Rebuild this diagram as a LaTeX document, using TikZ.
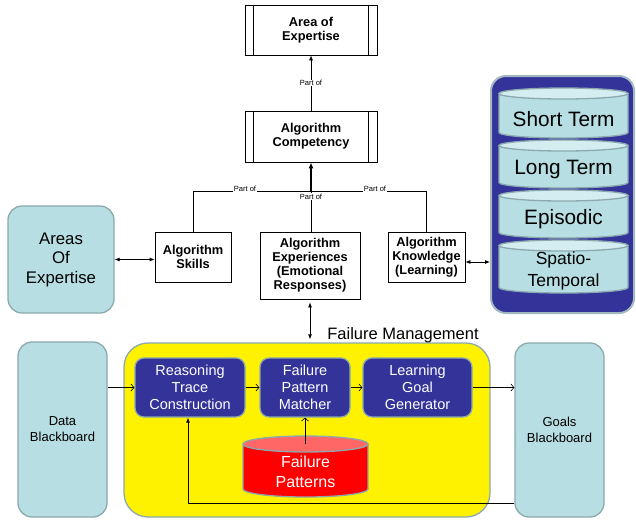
\documentclass[tikz,border=0pt]{standalone}
\usepackage{fontspec}
\setmainfont{Liberation Sans}
\usetikzlibrary{arrows.meta}

\definecolor{paleblue}{HTML}{B7DEE2}
\definecolor{paletop}{HTML}{D3EDF0}
\definecolor{edgegray}{HTML}{8BA9AF}
\definecolor{navy}{HTML}{333399}
\definecolor{hotred}{HTML}{FF0000}
\definecolor{redtop}{HTML}{FF6666}

% drum: #1 left, #2 right, #3 top, #4 bottom, #5 cap radius, #6 body fill, #7 cap fill
\newcommand{\drum}[7]{%
  \pgfmathsetmacro\drumcx{(#1+#2)/2}%
  \pgfmathsetmacro\drumrx{(#2-#1)/2}%
  \filldraw[fill=#6,draw=edgegray,line width=1.3pt]
    (#1,-#3-#5) -- (#1,-#4+#5)
    arc[start angle=180,end angle=360,x radius=\drumrx,y radius=#5]
    -- (#2,-#3-#5) -- cycle;
  \filldraw[fill=#7,draw=edgegray,line width=1.3pt]
    (\drumcx,-#3-#5) ellipse[x radius=\drumrx,y radius=#5];
}

\begin{document}
\begin{tikzpicture}[x=1pt,y=1pt,
  concept/.style={draw=black,line width=0.8pt,fill=white,align=center,inner sep=1pt,
    font=\fontsize{12.8}{14}\selectfont\bfseries},
  partlabel/.style={fill=white,inner sep=0.6pt,font=\fontsize{7.5}{8}\selectfont},
  softbox/.style={draw=edgegray,line width=1.3pt,fill=paleblue,rounded corners=14pt,
    align=center,inner sep=2pt},
  stage/.style={draw=edgegray,line width=1.3pt,fill=navy,rounded corners=9pt,
    text=white,align=center,inner sep=1pt,minimum width=#1,minimum height=59pt,
    font=\fontsize{14.5}{17}\selectfont},
  memtext/.style={align=center,inner sep=0pt,font=\fontsize{20.8}{22}\selectfont},
  flow/.style={-{Straight Barb[length=3pt,width=7pt]},line width=0.6pt},
  link/.style={{Latex[length=5pt,width=4pt]}-{Latex[length=5pt,width=4pt]},line width=0.8pt}
]
\useasboundingbox (0,0) rectangle (636,-520);

% ---- concept hierarchy ----
\node[concept,minimum width=132pt,minimum height=50pt] (area) at (311,-30) {Area of\\Expertise};
\node[concept,minimum width=132pt,minimum height=51pt] (comp) at (311,-136.5) {Algorithm\\Competency};
\foreach \n in {area,comp}{
  \draw[line width=0.8pt] ([xshift=9pt]\n.north west) -- ([xshift=9pt]\n.south west);
  \draw[line width=0.8pt] ([xshift=-9pt]\n.north east) -- ([xshift=-9pt]\n.south east);
}
\node[concept,minimum width=76pt,minimum height=50pt] (skills) at (193,-257) {Algorithm\\Skills};
\node[concept,minimum width=100pt,minimum height=67pt] (exper) at (310,-265.5)
  {Algorithm\\Experiences\\(Emotional\\Responses)};
\node[concept,minimum width=77pt,minimum height=50pt] (know) at (426.5,-257)
  {Algorithm\\Knowledge\\(Learning)};

\draw[-{Latex[length=5pt,width=4pt]},line width=0.6pt] (comp.north) -- (area.south)
  node[partlabel,midway] (p0) {Part of};

\coordinate (bar) at (311,-191);
\draw[line width=0.6pt] (skills.north) -- (skills.north |- bar)
  -- (know.north |- bar) -- (know.north);
\draw[line width=0.6pt] (exper.north -| bar) -- (bar);
\node[partlabel] (p1) at (245,-189) {Part of};
\node[partlabel] (p2) at (375,-189) {Part of};
\node[partlabel] (p3) at (311,-196.5) {Part of};
\draw[-{Latex[length=6pt,width=5pt]},line width=1.6pt] (bar) -- (comp.south);

% ---- areas of expertise ----
\node[softbox,minimum width=106pt,minimum height=107pt,
  font=\fontsize{16.8}{19.5}\selectfont] (areas) at (61,-259.5) {Areas\\Of\\Expertise};
\draw[link] (areas.east) -- (skills.west |- areas.east);

% ---- memory panel ----
\node[draw=edgegray!80,line width=2pt,fill=navy,rounded corners=15pt,
  minimum width=143pt,minimum height=237pt] (mem) at (562.5,-194.5) {};
\drum{499}{628}{88}{138}{5.5}{paleblue}{paletop}
\drum{499}{628}{140}{188}{5.5}{paleblue}{paletop}
\drum{499}{628}{190}{238}{5.5}{paleblue}{paletop}
\drum{499}{628}{240}{293}{5.5}{paleblue}{paletop}
\node[memtext] (m1) at (563.5,-119) {Short Term};
\node[memtext] (m2) at (563.5,-169) {Long Term};
\node[memtext] (m3) at (563.5,-219) {Episodic};
\node[memtext,font=\fontsize{17.5}{21.5}\selectfont] (m4) at (563.5,-271) {Spatio-\\Temporal};
\draw[link] ([yshift=-5pt]know.east) -- ([yshift=-5pt]know.east -| mem.west);

% ---- failure management ----
\node[draw=edgegray,line width=1.3pt,fill=yellow,rounded corners=24pt,
  minimum width=366pt,minimum height=174pt] (fm) at (307,-430) {};
\node[inner sep=0pt,font=\fontsize{16.5}{18}\selectfont] (fmlabel) at (403,-335) {Failure Management};
\draw[link,shorten <=3pt,shorten >=3pt] (exper.south) -- (exper.south |- fm.north);

\node[softbox,minimum width=89pt,minimum height=175pt,
  font=\fontsize{13}{16}\selectfont] (data) at (62.5,-429.5) {Data\\Blackboard};
\node[softbox,minimum width=89pt,minimum height=174pt,
  font=\fontsize{13}{16}\selectfont] (goals) at (559.5,-430) {Goals\\Blackboard};

\node[stage=110pt] (rtc) at (190,-387.5) {Reasoning\\Trace\\Construction};
\node[stage=90pt] (fpm) at (305,-387.5) {Failure\\Pattern\\Matcher};
\node[stage=109pt] (lgg) at (417.5,-387.5) {Learning\\Goal\\Generator};

\drum{243}{368}{436}{497}{8}{hotred}{redtop}
\node[align=center,inner sep=0pt,text=white,font=\fontsize{16}{20}\selectfont] (fp)
  at (305.5,-472) {Failure\\Patterns};
\coordinate (fptop) at (305,-444);

\draw[flow] (data.east |- rtc.west) -- (rtc.west);
\draw[flow] (rtc.east) -- (fpm.west);
\draw[flow] (fpm.east) -- (lgg.west);
\draw[flow] (lgg.east) -- (lgg.east -| goals.west);
\draw[flow] (fptop) -- (fptop |- fpm.south);

\coordinate (fb) at (188,-503);
\draw[-{Latex[length=5pt,width=4pt]},line width=0.7pt] (goals.west |- fb) -- (fb) -- (fb |- rtc.south);
\end{tikzpicture}
\end{document}
